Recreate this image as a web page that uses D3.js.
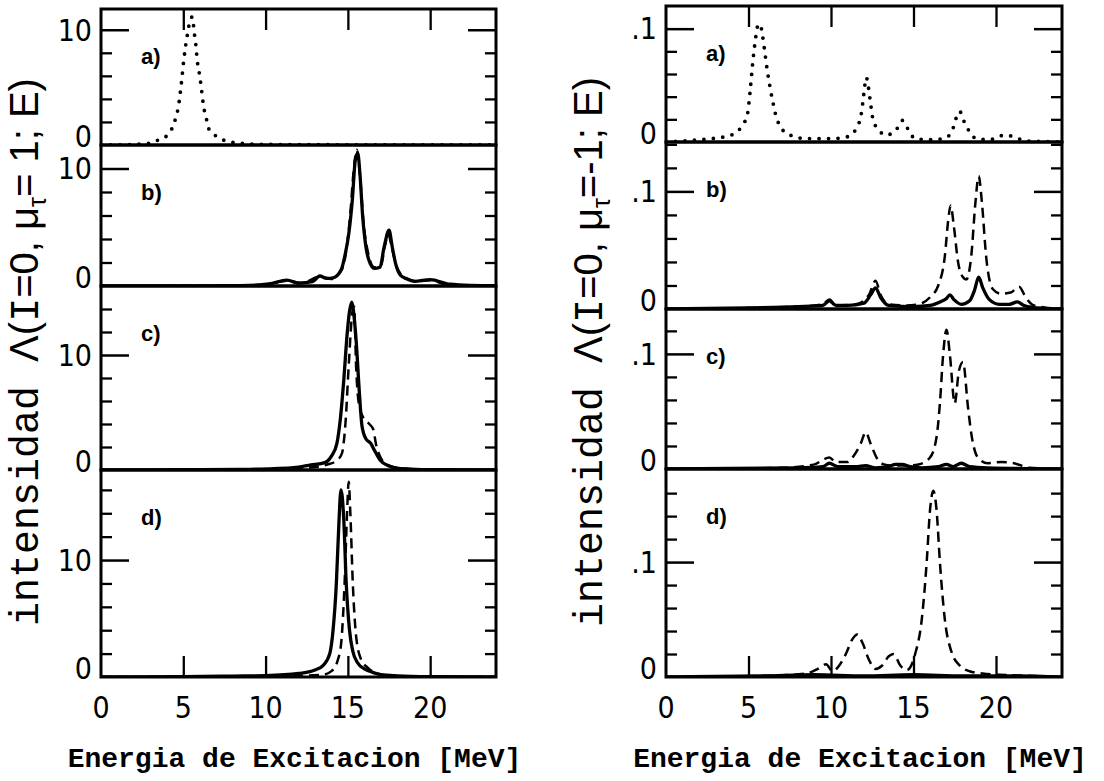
<!DOCTYPE html>
<html>
<head>
<meta charset="utf-8">
<script src="https://cdn.jsdelivr.net/npm/d3@7"></script>
<style>
  body { margin: 0; background: #fff; }
  .num { font-family: "Liberation Sans Narrow", "DejaVu Sans Condensed", "Liberation Sans", sans-serif; font-size: 30px; fill: #000; }
  .tag { font-family: "Liberation Sans", "DejaVu Sans", sans-serif; font-weight: bold; font-size: 22px; fill: #000; }
  .xtitle { font-family: "Liberation Mono", "DejaVu Sans Mono", monospace; font-weight: bold; font-size: 28px; fill: #000; }
  .ytitle { font-size: 40px; fill: #000; }
</style>
</head>
<body>
<svg id="chart" width="1104" height="781"></svg>
<script>
// ---- data ----
var xTicks = [5, 10, 15, 20];
var xTickLabels = ["0", "5", "10", "15", "20"];
var xLabelValues = [0, 5, 10, 15, 20];
var panelTags = ["a)", "b)", "c)", "d)"];

// left column, mu_tau = 1
var leftA_E = [0, 2, 2.9, 3.5, 4.0, 4.3, 4.55, 4.7, 4.87, 5.04, 5.15, 5.29, 5.44, 5.55, 5.67, 5.76, 5.86, 6.0, 6.09, 6.24, 6.4, 6.55, 6.97, 7.6, 8.5, 10, 14, 18, 24];
var leftA_dot = [0, 0.05, 0.15, 0.45, 0.8, 1.4, 2.4, 3.3, 5.2, 7.5, 8.7, 9.9, 11.0, 11.1, 9.7, 8.7, 7.2, 6.0, 5.0, 3.3, 2.3, 1.4, 0.8, 0.35, 0.15, 0.05, 0.02, 0.01, 0];

var leftB_E = [0, 6, 8.5, 10.2, 11.3, 12.0, 12.85, 13.3, 13.7, 14.1, 14.6, 14.85, 15.06, 15.27, 15.45, 15.6, 15.73, 15.9, 16.1, 16.3, 16.6, 16.95, 17.2, 17.5, 17.7, 17.9, 18.2, 18.6, 19.05, 20.0, 21.2, 22.5, 24];
var leftB_solid = [0, 0.01, 0.03, 0.17, 0.5, 0.25, 0.37, 0.85, 0.65, 0.7, 1.4, 2.8, 4.5, 7.3, 10.7, 11.3, 9.6, 5.9, 3.3, 2.1, 1.5, 1.6, 3.3, 4.75, 3.3, 1.9, 0.9, 0.6, 0.4, 0.55, 0.15, 0.05, 0.02];
var leftB_E2 = [0, 8, 10, 11.3, 12.2, 13.3, 14.0, 14.6, 14.9, 15.15, 15.35, 15.55, 15.75, 15.95, 16.2, 16.6, 17.0, 17.25, 17.45, 17.7, 17.95, 18.4, 19.2, 20, 21, 24];
var leftB_dash = [0, 0.03, 0.12, 0.45, 0.25, 0.8, 0.6, 1.3, 3.0, 6.2, 9.8, 11.6, 9.2, 5.4, 3.0, 1.6, 1.7, 3.4, 4.4, 3.1, 1.7, 0.8, 0.4, 0.5, 0.12, 0.02];

var leftC_E = [0, 6, 8.5, 10.5, 11.7, 12.75, 13.6, 14.0, 14.33, 14.54, 14.75, 14.96, 15.1, 15.23, 15.4, 15.5, 15.7, 15.86, 16.1, 16.4, 16.6, 16.95, 17.5, 18.2, 19.5, 24];
var leftC_solid = [0, 0.02, 0.05, 0.12, 0.2, 0.44, 0.64, 1.2, 2.3, 4.4, 7.8, 11.9, 13.8, 14.6, 13.0, 11.3, 6.7, 3.8, 2.7, 2.3, 1.75, 0.87, 0.35, 0.12, 0.04, 0];
var leftC_E2 = [0, 10, 12.5, 13.8, 14.3, 14.64, 14.85, 15.06, 15.27, 15.38, 15.5, 15.7, 16.0, 16.3, 16.55, 16.7, 16.95, 17.4, 18.2, 20, 24];
var leftC_dash = [0, 0.05, 0.2, 0.5, 0.8, 1.45, 4.0, 9.3, 13.7, 14.2, 9.0, 5.5, 4.4, 4.0, 3.5, 2.3, 1.2, 0.45, 0.15, 0.03, 0];

var leftD_E = [0, 5, 8, 10, 12, 13, 13.5, 13.9, 14.1, 14.3, 14.45, 14.58, 14.75, 14.9, 15.1, 15.3, 15.6, 16.0, 16.5, 17, 18, 20, 24];
var leftD_solid = [0, 0.02, 0.08, 0.12, 0.3, 0.6, 1.0, 2.0, 4.0, 8.0, 13.0, 16.0, 13.5, 8.0, 4.0, 2.2, 1.2, 0.7, 0.4, 0.2, 0.1, 0.03, 0];
var leftD_E2 = [0, 10, 13.5, 14.0, 14.4, 14.6, 14.8, 14.95, 15.05, 15.15, 15.3, 15.5, 15.8, 16.2, 16.8, 17.5, 20, 24];
var leftD_dash = [0, 0.05, 0.2, 0.5, 1.5, 3.0, 8.0, 14.0, 16.7, 14.0, 8.0, 3.5, 1.5, 0.8, 0.3, 0.1, 0.02, 0];

// right column, mu_tau = -1
var rightA_E = [0, 2, 3.67, 4.2, 4.6, 4.94, 5.1, 5.25, 5.4, 5.55, 5.7, 5.85, 6.0, 6.15, 6.31, 6.48, 6.63, 7.05, 7.54, 8.5, 10.0, 10.8, 11.19, 11.6, 11.8, 11.93, 12.05, 12.14, 12.25, 12.39, 12.56, 12.88, 13.3, 13.83, 14.15, 14.32, 14.53, 14.75, 15.1, 16.0, 16.8, 17.29, 17.5, 17.65, 17.8, 18.07, 18.4, 18.8, 19.6, 20.5, 21.0, 21.8, 24];
var rightA_dot = [0, 0.002, 0.005, 0.008, 0.014, 0.025, 0.045, 0.069, 0.088, 0.102, 0.104, 0.094, 0.078, 0.062, 0.048, 0.035, 0.025, 0.011, 0.006, 0.003, 0.003, 0.004, 0.006, 0.014, 0.022, 0.035, 0.05, 0.057, 0.05, 0.035, 0.019, 0.011, 0.006, 0.009, 0.015, 0.019, 0.015, 0.009, 0.003, 0.002, 0.003, 0.008, 0.017, 0.024, 0.027, 0.018, 0.009, 0.003, 0.002, 0.006, 0.005, 0.001, 0];

var rightB_E = [0, 8, 9.5, 9.9, 10.3, 11.5, 12.3, 12.7, 13.0, 13.5, 14.5, 15.3, 16.0, 16.5, 16.9, 17.1, 17.25, 17.45, 17.7, 18.0, 18.2, 18.5, 18.75, 18.95, 19.15, 19.4, 19.8, 20.3, 20.9, 21.4, 21.8, 22.3, 24];
var rightB_dash = [0, 0.002, 0.004, 0.008, 0.003, 0.004, 0.012, 0.024, 0.012, 0.004, 0.003, 0.004, 0.01, 0.02, 0.045, 0.075, 0.088, 0.07, 0.04, 0.027, 0.025, 0.045, 0.09, 0.113, 0.09, 0.045, 0.017, 0.013, 0.014, 0.019, 0.01, 0.003, 0];
var rightB_E2 = [0, 5, 8, 9.5, 9.9, 10.3, 11, 12.0, 12.4, 12.7, 13.0, 13.5, 15, 16.0, 16.6, 17.0, 17.2, 17.45, 17.9, 18.4, 18.7, 18.95, 19.2, 19.6, 20.2, 20.8, 21.3, 21.7, 22.5, 24];
var rightB_solid = [0, 0.001, 0.002, 0.003, 0.007, 0.003, 0.003, 0.005, 0.012, 0.018, 0.01, 0.003, 0.002, 0.003, 0.006, 0.009, 0.012, 0.008, 0.004, 0.007, 0.016, 0.027, 0.018, 0.008, 0.004, 0.004, 0.006, 0.003, 0.001, 0];

var rightC_E = [0, 7, 9.0, 9.5, 9.9, 10.3, 11.0, 11.4, 11.8, 12.1, 12.4, 12.8, 13.2, 13.8, 14.5, 15.3, 16.0, 16.4, 16.6, 16.8, 17.0, 17.2, 17.5, 17.75, 18.0, 18.3, 18.5, 18.9, 19.5, 20.3, 21.1, 22, 24];
var rightC_dash = [0, 0.001, 0.004, 0.008, 0.01, 0.006, 0.006, 0.012, 0.022, 0.032, 0.022, 0.009, 0.004, 0.003, 0.003, 0.004, 0.01, 0.028, 0.057, 0.1, 0.121, 0.1, 0.057, 0.085, 0.093, 0.054, 0.031, 0.01, 0.005, 0.006, 0.005, 0.001, 0];
var rightC_E2 = [0, 8, 9.5, 9.9, 10.4, 11.5, 12.1, 12.7, 13.5, 13.9, 14.3, 14.8, 15.5, 16.5, 17.0, 17.4, 17.9, 18.4, 19.5, 24];
var rightC_solid = [0, 0.001, 0.002, 0.005, 0.002, 0.002, 0.003, 0.001, 0.002, 0.004, 0.004, 0.002, 0.001, 0.002, 0.004, 0.002, 0.005, 0.002, 0.001, 0];

var rightD_E = [0, 6, 8.5, 9.2, 9.7, 10.1, 10.5, 10.9, 11.3, 11.6, 11.9, 12.3, 12.7, 13.1, 13.5, 13.8, 14.2, 14.6, 15.1, 15.5, 15.8, 16.0, 16.2, 16.4, 16.6, 16.9, 17.3, 17.8, 18.4, 19.2, 20.2, 22, 24];
var rightD_dash = [0, 0.001, 0.003, 0.007, 0.011, 0.005, 0.01, 0.02, 0.033, 0.037, 0.03, 0.015, 0.007, 0.01, 0.018, 0.02, 0.01, 0.006, 0.02, 0.05, 0.1, 0.145, 0.162, 0.145, 0.1, 0.05, 0.022, 0.01, 0.005, 0.003, 0.002, 0.001, 0];
var rightD_E2 = [0, 6, 9, 12, 15, 18, 21, 24];
var rightD_solid = [0, 0.001, 0.002, 0.001, 0.002, 0.001, 0.001, 0];

// ---- layout ----
var svg = d3.select("#chart");

var columns = [
  { left: 101, right: 496, major: [10], minor: [2, 4, 6, 8, 12, 14, 16], labels: ["0", "10"], labelVals: [0, 10],
    titleX: 38, tail: "= 1; E)",
    panels: [
      { top: 9,   bottom: 145, max: 11.8, series: [{ e: leftA_E, v: leftA_dot, style: "dot" }] },
      { top: 145, bottom: 286, max: 12.0, series: [{ e: leftB_E2, v: leftB_dash, style: "dash" }, { e: leftB_E, v: leftB_solid, style: "solid" }] },
      { top: 286, bottom: 470, max: 16.0, series: [{ e: leftC_E2, v: leftC_dash, style: "dash" }, { e: leftC_E, v: leftC_solid, style: "solid" }] },
      { top: 470, bottom: 677, max: 17.7, series: [{ e: leftD_E2, v: leftD_dash, style: "dash" }, { e: leftD_E, v: leftD_solid, style: "solid" }] }
    ] },
  { left: 666, right: 1062, major: [0.1], minor: [0.02, 0.04, 0.06, 0.08, 0.12, 0.14, 0.16], labels: ["0", ".1"], labelVals: [0, 0.1],
    titleX: 602, tail: "=-1; E)",
    panels: [
      { top: 6,   bottom: 142, max: 0.12,  series: [{ e: rightA_E, v: rightA_dot, style: "dot" }] },
      { top: 142, bottom: 309, max: 0.142, series: [{ e: rightB_E, v: rightB_dash, style: "dash" }, { e: rightB_E2, v: rightB_solid, style: "solid" }] },
      { top: 309, bottom: 469, max: 0.139, series: [{ e: rightC_E, v: rightC_dash, style: "dash" }, { e: rightC_E2, v: rightC_solid, style: "solid" }] },
      { top: 469, bottom: 677, max: 0.181, series: [{ e: rightD_E, v: rightD_dash, style: "dash" }, { e: rightD_E2, v: rightD_solid, style: "solid" }] }
    ] }
];

var styles = {
  solid: { w: 3.3, dash: null, cap: "round" },
  dash:  { w: 2.5, dash: "10,6", cap: "butt" },
  dot:   { w: 3.8, dash: "0,9.5", cap: "round" }
};

function noDomain(w) {
  return function(s) { s.select(".domain").remove(); s.selectAll("line").attr("stroke-width", w); };
}

columns.forEach(function(col, ci) {
  var x = d3.scaleLinear().domain([0, 24]).range([col.left, col.right]);

  col.panels.forEach(function(p, pi) {
    var y = d3.scaleLinear().domain([0, p.max]).range([p.bottom, p.top]);
    var g = svg.append("g");
    var clipId = "clip" + ci + pi;

    svg.append("clipPath").attr("id", clipId)
      .append("rect").attr("x", col.left).attr("y", p.top - 2)
      .attr("width", col.right - col.left).attr("height", p.bottom - p.top + 2);

    var line = d3.line()
      .x(function(d) { return x(d[0]); })
      .y(function(d) { return y(d[1]); })
      .curve(d3.curveMonotoneX);

    p.series.forEach(function(s) {
      var pts = s.e.map(function(e, i) { return [e, s.v[i]]; });
      var st = styles[s.style];
      g.append("path")
        .attr("clip-path", "url(#" + clipId + ")")
        .attr("d", line(pts))
        .attr("fill", "none")
        .attr("stroke", "#000")
        .attr("stroke-width", st.w)
        .attr("stroke-linecap", st.cap)
        .attr("stroke-linejoin", "round")
        .attr("stroke-dasharray", st.dash);
    });

    // inward y ticks on both sides
    var minor = col.minor.filter(function(v) { return v < p.max; });
    [[d3.axisLeft, col.left], [d3.axisRight, col.right]].forEach(function(a) {
      g.append("g").attr("transform", "translate(" + a[1] + ",0)")
        .call(a[0](y).tickValues(minor).tickSize(-11).tickFormat(""))
        .call(noDomain(2.3));
      g.append("g").attr("transform", "translate(" + a[1] + ",0)")
        .call(a[0](y).tickValues(col.major).tickSize(-28).tickFormat(""))
        .call(noDomain(2.5));
    });

    col.labelVals.forEach(function(v, i) {
      g.append("text").attr("class", "num")
        .attr("x", col.left - 9)
        .attr("y", y(v) - (v === 0 ? 9 : 0))
        .attr("dy", "0.36em")
        .attr("text-anchor", "end")
        .text(col.labels[i]);
    });

    g.append("text").attr("class", "tag")
      .attr("x", col.left + 40)
      .attr("y", p.top + 55)
      .text(panelTags[pi]);

    g.append("rect")
      .attr("x", col.left).attr("y", p.top)
      .attr("width", col.right - col.left).attr("height", p.bottom - p.top)
      .attr("fill", "none").attr("stroke", "#000").attr("stroke-width", 3);
  });

  var top = col.panels[0].top, bottom = col.panels[3].bottom;

  svg.append("g").attr("transform", "translate(0," + top + ")")
    .call(d3.axisTop(x).tickValues(xTicks).tickSize(-21).tickFormat(""))
    .call(noDomain(2.3));
  svg.append("g").attr("transform", "translate(0," + bottom + ")")
    .call(d3.axisBottom(x).tickValues(xTicks).tickSize(-21).tickFormat(""))
    .call(noDomain(2.3));

  svg.selectAll(null).data(xLabelValues).enter().append("text")
    .attr("class", "num")
    .attr("x", function(d) { return x(d); })
    .attr("y", bottom + 30)
    .attr("dy", "0.36em")
    .attr("text-anchor", "middle")
    .text(function(d, i) { return xTickLabels[i]; });

  svg.append("text").attr("class", "xtitle")
    .attr("x", (col.left + col.right) / 2 - 4)
    .attr("y", 767)
    .attr("text-anchor", "middle")
    .text("Energia de Excitacion [MeV]");

  var mono = "Liberation Mono, DejaVu Sans Mono, monospace";
  var sans = "Liberation Sans, DejaVu Sans, sans-serif";
  var t = svg.append("text").attr("class", "ytitle")
    .attr("transform", "translate(" + col.titleX + "," + 352 + ") rotate(-90)")
    .attr("text-anchor", "middle");
  t.append("tspan").attr("font-family", mono).text("intensidad ");
  t.append("tspan").attr("font-family", sans).text("\u039B(");
  t.append("tspan").attr("font-family", mono).text("I");
  t.append("tspan").attr("font-family", sans).text("=0, \u03BC");
  t.append("tspan").attr("font-family", sans).attr("font-size", "25px").attr("dy", "8").text("\u03C4");
  t.append("tspan").attr("font-family", sans).attr("dy", "-8").text(col.tail);
});
</script>
</body>
</html>
